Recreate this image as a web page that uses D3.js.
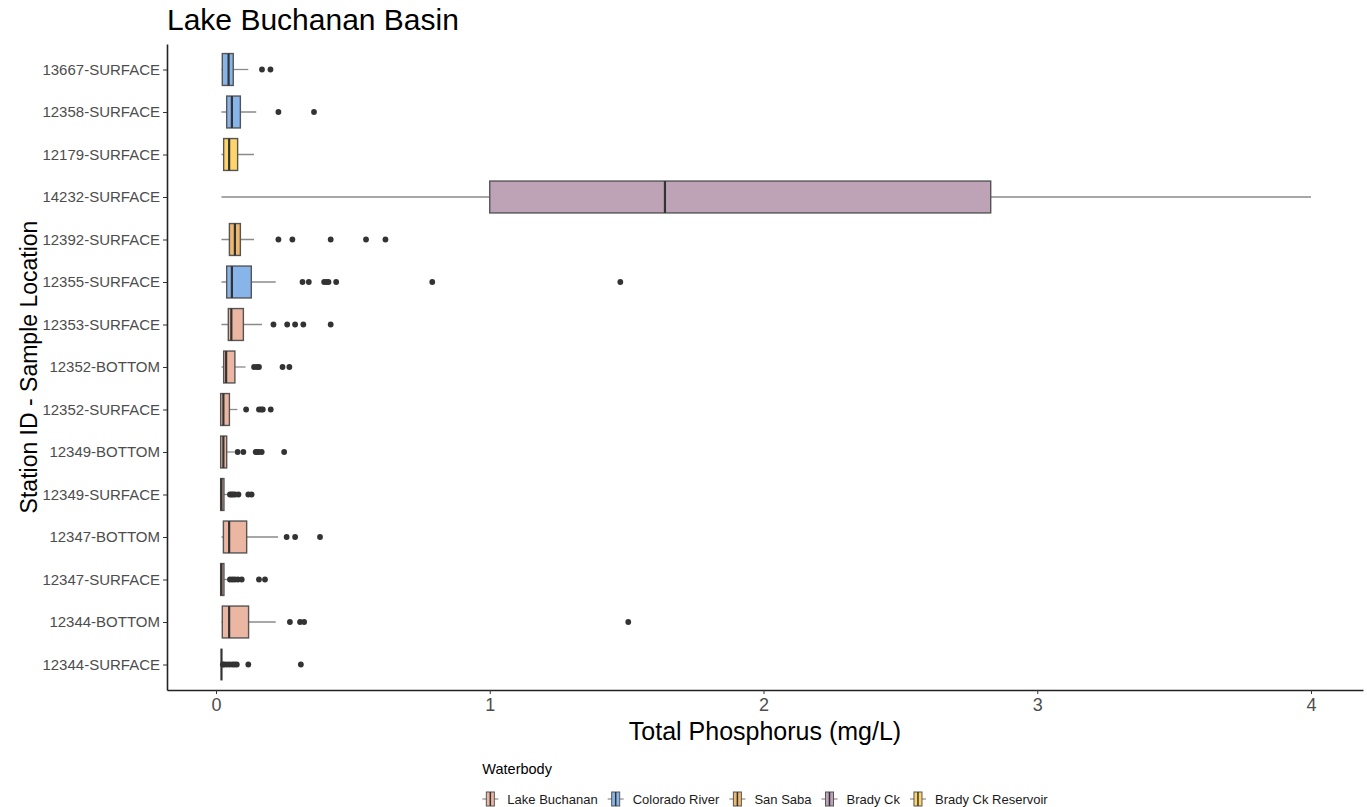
<!DOCTYPE html>
<html>
<head>
<meta charset="utf-8">
<script src="https://cdn.jsdelivr.net/npm/d3@7"></script>
<style>
  body { margin: 0; background: #fff; }
  text { font-family: "Liberation Sans", Arial, sans-serif; }
</style>
</head>
<body>
<div id="chart"></div>
<script>
// station / sample location, top to bottom
var stations = ["13667-SURFACE", "12358-SURFACE", "12179-SURFACE", "14232-SURFACE", "12392-SURFACE",
                "12355-SURFACE", "12353-SURFACE", "12352-BOTTOM", "12352-SURFACE", "12349-BOTTOM",
                "12349-SURFACE", "12347-BOTTOM", "12347-SURFACE", "12344-BOTTOM", "12344-SURFACE"];
var waterbody = ["Colorado River", "Colorado River", "Brady Ck Reservoir", "Brady Ck", "San Saba",
                 "Colorado River", "Lake Buchanan", "Lake Buchanan", "Lake Buchanan", "Lake Buchanan",
                 "Lake Buchanan", "Lake Buchanan", "Lake Buchanan", "Lake Buchanan", "Lake Buchanan"];

// box statistics (mg/L)
var whiskLo = [0.02, 0.02, 0.02, 0.02, 0.02, 0.02, 0.02, 0.02, 0.017, 0.017, 0.017, 0.02, 0.017, 0.02, 0.02];
var q1      = [0.023, 0.039, 0.028, 1.0, 0.049, 0.039, 0.045, 0.028, 0.017, 0.017, 0.017, 0.027, 0.017, 0.023, 0.02];
var median  = [0.046, 0.058, 0.048, 1.64, 0.069, 0.058, 0.056, 0.037, 0.027, 0.027, 0.02, 0.048, 0.02, 0.048, 0.02];
var q3      = [0.063, 0.089, 0.079, 2.83, 0.089, 0.129, 0.10, 0.069, 0.049, 0.039, 0.029, 0.112, 0.029, 0.119, 0.02];
var whiskHi = [0.118, 0.147, 0.139, 4.0, 0.139, 0.218, 0.168, 0.108, 0.078, 0.068, 0.045, 0.227, 0.045, 0.218, 0.02];
var outliers = [
  [0.168, 0.199],
  [0.228, 0.358],
  [],
  [],
  [0.228, 0.279, 0.419, 0.548, 0.619],
  [0.316, 0.339, 0.395, 0.405, 0.411, 0.439, 0.79, 1.477],
  [0.21, 0.26, 0.289, 0.319, 0.419],
  [0.139, 0.15, 0.157, 0.243, 0.268],
  [0.11, 0.157, 0.165, 0.171, 0.2],
  [0.079, 0.1, 0.145, 0.15, 0.156, 0.167, 0.249],
  [0.051, 0.057, 0.063, 0.07, 0.082, 0.118, 0.13],
  [0.258, 0.289, 0.38],
  [0.051, 0.06, 0.069, 0.08, 0.094, 0.157, 0.179],
  [0.27, 0.307, 0.322, 1.506],
  [0.025, 0.03, 0.04, 0.05, 0.06, 0.068, 0.076, 0.118, 0.31]
];

var groups = ["Lake Buchanan", "Colorado River", "San Saba", "Brady Ck", "Brady Ck Reservoir"];
var groupColors = ["#ebb7a3", "#87b5ea", "#edb870", "#bea3b6", "#fdd56a"];
var xTicks = [0, 1, 2, 3, 4];

var W = 1367, H = 807;
var margin = {top: 44, right: 4, bottom: 117, left: 167};
var width = W - margin.left - margin.right,
    height = H - margin.top - margin.bottom;

var svg = d3.select("#chart").append("svg")
  .attr("width", W)
  .attr("height", H);

var g = svg.append("g")
  .attr("transform", "translate(" + margin.left + "," + margin.top + ")");

var x = d3.scaleLinear()
  .domain([-0.179, 4.19])
  .range([0, width]);

var y = d3.scalePoint()
  .domain(stations)
  .range([0, height])
  .padding(0.6);

var step = y.step();
var boxH = step * 0.75;

var color = d3.scaleOrdinal().domain(groups).range(groupColors);

var rows = stations.map(function(s, i) {
  return {station: s, wb: waterbody[i], lo: whiskLo[i], q1: q1[i], med: median[i],
          q3: q3[i], hi: whiskHi[i], out: outliers[i]};
});

// whiskers
g.selectAll(".whisk")
  .data(rows)
  .enter().append("line")
    .attr("x1", function(d) { return x(d.lo); })
    .attr("x2", function(d) { return x(d.hi); })
    .attr("y1", function(d) { return y(d.station); })
    .attr("y2", function(d) { return y(d.station); })
    .attr("stroke", "#8a8a8a")
    .attr("stroke-width", 1.3);

// boxes
g.selectAll(".box")
  .data(rows)
  .enter().append("rect")
    .attr("x", function(d) { return x(d.q1); })
    .attr("y", function(d) { return y(d.station) - boxH / 2; })
    .attr("width", function(d) { return Math.max(0, x(d.q3) - x(d.q1)); })
    .attr("height", boxH)
    .attr("fill", function(d) { return color(d.wb); })
    .attr("stroke", "#555")
    .attr("stroke-width", 1.4);

// medians
g.selectAll(".med")
  .data(rows)
  .enter().append("line")
    .attr("x1", function(d) { return x(d.med); })
    .attr("x2", function(d) { return x(d.med); })
    .attr("y1", function(d) { return y(d.station) - boxH / 2; })
    .attr("y2", function(d) { return y(d.station) + boxH / 2; })
    .attr("stroke", "#333")
    .attr("stroke-width", 2.2);

// outliers
var pts = [];
rows.forEach(function(d) {
  d.out.forEach(function(v) { pts.push({station: d.station, v: v}); });
});
g.selectAll(".out")
  .data(pts)
  .enter().append("circle")
    .attr("cx", function(d) { return x(d.v); })
    .attr("cy", function(d) { return y(d.station); })
    .attr("r", 2.9)
    .attr("fill", "#333");

// axes
var yAxis = g.append("g")
  .call(d3.axisLeft(y).tickSize(4).tickSizeOuter(0).tickPadding(3));
yAxis.select(".domain").attr("stroke", "#222").attr("stroke-width", 1.6);
yAxis.selectAll(".tick line").attr("stroke", "#333");
yAxis.selectAll("text")
  .attr("fill", "#4d4d4d")
  .style("font-size", "15px")
  .style("font-family", "'Liberation Sans', Arial, sans-serif");

var xAxis = g.append("g")
  .attr("transform", "translate(0," + height + ")")
  .call(d3.axisBottom(x).tickValues(xTicks).tickFormat(d3.format("d")).tickSize(4).tickSizeOuter(0).tickPadding(4));
xAxis.select(".domain").attr("stroke", "#222").attr("stroke-width", 1.6);
xAxis.selectAll(".tick line").attr("stroke", "#333");
xAxis.selectAll("text")
  .attr("fill", "#4d4d4d")
  .style("font-size", "18px")
  .style("font-family", "'Liberation Sans', Arial, sans-serif");

// titles
svg.append("text")
  .attr("x", 167)
  .attr("y", 30)
  .style("font-size", "30px")
  .attr("fill", "#000")
  .text("Lake Buchanan Basin");

svg.append("text")
  .attr("x", margin.left + width / 2)
  .attr("y", 740)
  .attr("text-anchor", "middle")
  .style("font-size", "25px")
  .attr("fill", "#000")
  .text("Total Phosphorus (mg/L)");

svg.append("text")
  .attr("transform", "translate(37," + (margin.top + height / 2) + ")rotate(-90)")
  .attr("text-anchor", "middle")
  .style("font-size", "23px")
  .attr("fill", "#000")
  .text("Station ID - Sample Location");

// legend
var leg = svg.append("g");
leg.append("text")
  .attr("x", 0)
  .attr("y", 0)
  .style("font-size", "14.5px")
  .attr("fill", "#000")
  .text("Waterbody");

var cx = 0;
groups.forEach(function(name, i) {
  var it = leg.append("g").attr("transform", "translate(" + cx + ",25)");
  it.append("line").attr("x1", 0).attr("x2", 16).attr("y1", 0).attr("y2", 0)
    .attr("stroke", "#8a8a8a").attr("stroke-width", 1.2);
  it.append("rect").attr("x", 4).attr("y", -7).attr("width", 8).attr("height", 14)
    .attr("fill", groupColors[i]).attr("stroke", "#555").attr("stroke-width", 1);
  it.append("line").attr("x1", 8).attr("x2", 8).attr("y1", -7).attr("y2", 7)
    .attr("stroke", "#333").attr("stroke-width", 1.5);
  var t = it.append("text").attr("x", 25).attr("y", 4.5)
    .style("font-size", "13px").attr("fill", "#1a1a1a").text(name);
  cx += 25 + t.node().getComputedTextLength() + 10;
});
var legW = cx - 10;
leg.attr("transform", "translate(" + (margin.left + width / 2 - legW / 2) + ",774)");
</script>
</body>
</html>
